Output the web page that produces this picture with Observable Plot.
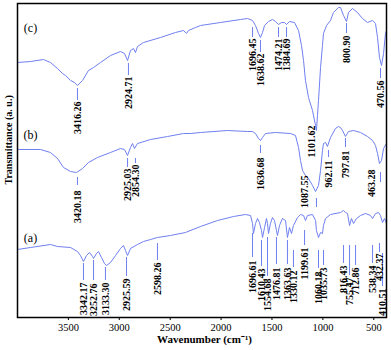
<!DOCTYPE html>
<html>
<head>
<meta charset="utf-8">
<script src="https://cdn.jsdelivr.net/npm/d3@7"></script>
<script src="https://cdn.jsdelivr.net/npm/@observablehq/plot@0.6"></script>
<style>
  html, body { margin: 0; padding: 0; background: #fff; }
  #chart svg { display: block; }
</style>
</head>
<body>
<div id="chart"></div>
<script>
// ---- Spectrum (c) ----
const wnC = [4000,3872,3745,3676,3607,3558,3528,3479,3440,3411,3361,3303,3253,3185,3086,2988,2949,2919,2890,2860,2841,2821,2762,2595,2448,2369,2340,2320,2251,2202,2006,1809,1740,1691,1662,1632,1613,1593,1573,1534,1495,1465,1436,1406,1377,1357,1328,1279,1239,1210,1190,1171,1141,1102,1072,1063,1053,1043,1023,1004,994,964,925,896,847,827,797,768,748,709,660,611,562,512,483,463,444,424,404,385,375];
const tC  = [255,256,258,255,249,244,242,237,235,232,237,247,250,255,262,266,264,257,267,269,265,271,275,280,285,287,284,287,290,292,295,298,299,297,292,284,280,285,292,296,298,296,293,295,295,293,296,295,287,272,257,237,220,207,192,187,202,217,250,272,284,292,297,305,310,310,302,296,305,309,305,299,295,297,294,280,260,252,264,284,287];

// ---- Spectrum (b) ----
const wnB = [4000,3774,3676,3607,3548,3479,3420,3361,3303,3214,3086,2988,2949,2919,2890,2870,2851,2821,2693,2526,2369,2300,2202,1937,1740,1691,1662,1632,1613,1593,1564,1465,1318,1269,1239,1220,1200,1171,1141,1102,1072,1043,1023,1004,994,974,955,925,876,847,827,807,778,748,699,630,562,512,483,463,444,424,404,375];
const tB  = [168,168,165,159,150,146,145,149,155,160,165,169,168,162,170,174,169,174,178,181,184,184,185,187,186,186,184,179,177,180,184,185,184,182,170,157,147,142,139,132,126,132,147,167,174,175,171,180,189,191,190,187,181,186,187,185,181,177,172,164,154,157,169,174];

// ---- Spectrum (a) ----
const wnA = [4000,3872,3676,3607,3479,3411,3381,3352,3322,3293,3263,3253,3224,3204,3175,3145,3126,3086,3037,2988,2959,2939,2919,2890,2821,2762,2693,2625,2497,2350,2202,2035,1878,1760,1711,1691,1682,1662,1642,1623,1603,1593,1573,1554,1544,1534,1515,1495,1475,1456,1446,1426,1397,1367,1348,1328,1308,1289,1249,1220,1190,1171,1151,1102,1072,1063,1043,1023,1004,994,974,925,827,797,778,758,738,719,699,670,630,581,532,512,483,453,434,414,395,375];
const tA  = [68,70,73,71,70,66,62,56,62,65,61,59,64,66,60,54,52,55,62,69,72,67,62,69,73,76,78,80,82,85,91,97,101,103,102,94,84,94,99,95,87,80,90,99,94,84,94,100,97,87,82,92,99,97,80,90,84,92,100,103,102,97,102,103,97,87,80,85,84,92,99,103,105,107,105,104,92,99,94,99,102,104,102,99,104,105,102,95,99,94];

// ---- Peak annotations ----
const labC   = ["3416.26","2924.71","1696.45","1638.62","1474.21","1384.69","1101.62","800.90","470.56"];
const posC   = [3411,2910,1691,1613,1436,1357,1112,768,434];
const markC  = [3411,2910,1691,1613,1436,1357,null,768,434];
const mTopC  = [229,254,290,277,290,290,null,294,249];
const mBotC  = [217,242,280,265,280,280,null,284,239];
const txtC   = [216,241,279,264,279,279,192,282,237];

const labB   = ["3420.18","2925.03","2854.30","1636.68","1087.55","962.11","797.81","463.28"];
const posB   = [3411,2919,2841,1613,1180,945,778,522];
const markB  = [3411,2919,2841,1613,1063,945,778,434];
const mTopB  = [140,159,159,172,119,167,179,145];
const mBotB  = [132,150,154,164,110,160,170,135];
const txtB   = [127,149,153,160,142,157,167,148];

const labA   = ["3342.17","3252.76","3133.30","2925.59","2598.26","1696.61","1610.43","1554.68","1476.81","1363.63","1330.12","1199.61","1060.18","1035.73","816.43","755.47","712.86","538.34","432.37","410.51"];
const posA   = [3352,3253,3136,2929,2625,1691,1603,1544,1456,1348,1289,1180,1043,994,797,738,679,512,444,414];
const mTopA  = [54,57,50,60,74,84,77,80,80,77,67,87,67,67,72,72,72,72,74,64];
const mBotA  = [37,37,37,41,57,60,51,41,53,53,50,72,49,52,54,42,52,54,65,31];
const txtA   = [35,34,35,39,55,57,49,39,50,50,47,70,46,50,52,40,50,52,64,29];

const panelNames = ["(a)","(b)","(c)"];
const panelT     = [79,182,289];
const xTicks = [3500,3000,2500,2000,1500,1000,500];

const color = "#6f80f0";
const toPts = (w, t) => w.map((d, i) => ({w: d, t: t[i]}));
const toLabels = (lab, pos, ty) => lab.map((s, i) => ({s, w: pos[i], ty: ty[i]}));
const toMarks = (pos, a, b) => pos.map((p, i) => ({w: p, y1: a[i], y2: b[i]})).filter(d => d.w != null);

const labels = [...toLabels(labC, posC, txtC), ...toLabels(labB, posB, txtB), ...toLabels(labA, posA, txtA)];
const marksR = [...toMarks(markC, mTopC, mBotC), ...toMarks(markB, mTopB, mBotB), ...toMarks(posA, mTopA, mBotA)];

const chart = Plot.plot({
  width: 391,
  height: 350,
  marginLeft: 17,
  marginRight: 5,
  marginTop: 3,
  marginBottom: 33,
  style: {fontFamily: "'Liberation Serif', 'Times New Roman', serif", background: "#fff", color: "#000"},
  x: {domain: [4000, 375]},
  y: {domain: [0, 314], axis: null},
  marks: [
    Plot.line(toPts(wnC, tC), {x: "w", y: "t", stroke: color, strokeWidth: 1}),
    Plot.line(toPts(wnB, tB), {x: "w", y: "t", stroke: color, strokeWidth: 1}),
    Plot.line(toPts(wnA, tA), {x: "w", y: "t", stroke: color, strokeWidth: 1}),
    Plot.ruleX(marksR, {x: "w", y1: "y1", y2: "y2", stroke: color, strokeWidth: 1}),
    Plot.text(labels, {x: "w", y: "ty", text: "s", rotate: -90, textAnchor: "end", fontSize: 10, fontWeight: "bold", fill: "#000"}),
    Plot.text(panelNames, {x: () => 3872, y: (d, i) => panelT[i], text: d => d, fontSize: 12, fill: "#000"}),
    Plot.frame({stroke: "#000", strokeWidth: 1.5}),
    Plot.axisX({ticks: xTicks, tickSize: 3, tickPadding: 3, tickFormat: "d", fontSize: 10.5, label: null}),
    Plot.text(["Wavenumber (cm⁻¹)"], {x: () => 2163, frameAnchor: "bottom", dy: 25, text: d => d, fontSize: 11, fontWeight: "bold", fill: "#000"}),
    Plot.text(["Transmittance (a. u.)"], {y: () => 133, frameAnchor: "left", dx: -9, rotate: -90, text: d => d, fontSize: 10, fontWeight: "bold", fill: "#000"})
  ]
});
document.getElementById("chart").appendChild(chart);
</script>
</body>
</html>
